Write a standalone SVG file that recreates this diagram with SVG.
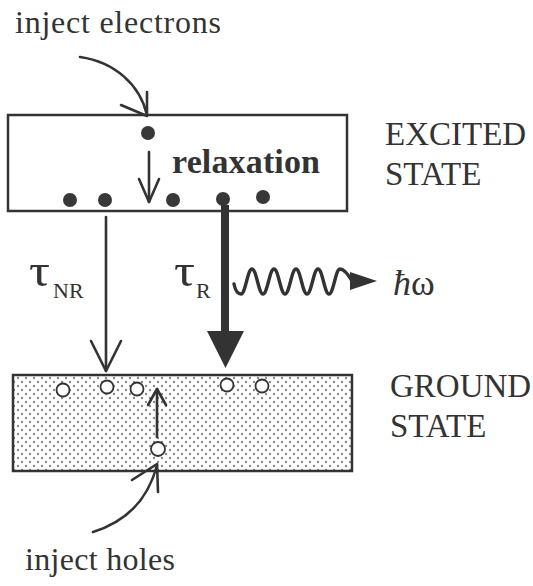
<svg xmlns="http://www.w3.org/2000/svg" width="533" height="586" viewBox="0 0 533 586">
<style>
text{font-family:"Liberation Serif","Times New Roman",serif;fill:#333;}
.lbl{font-size:33px;}
.box{fill:#fff;stroke:#333;stroke-width:2.5;}
.ln{fill:none;stroke:#333;stroke-width:2.6;stroke-linecap:round;stroke-linejoin:round;}
.el{fill:#383838;}
.hole{fill:#fff;stroke:#333;stroke-width:1.8;}
</style>
<defs>
<pattern id="stip" width="8" height="8" patternUnits="userSpaceOnUse">
<rect width="8" height="8" fill="#fff"/>
<circle cx="2" cy="2" r="1.2" fill="#888"/>
<circle cx="6" cy="6" r="1.2" fill="#888"/>
</pattern>
</defs>
<rect width="533" height="586" fill="#fff"/>

<g id="excited">
<rect class="box" x="8" y="115" width="339" height="96"/>
<circle class="el" cx="148" cy="133" r="7"/>
<circle class="el" cx="70" cy="200" r="7"/>
<circle class="el" cx="105" cy="200" r="7"/>
<circle class="el" cx="173" cy="200" r="7"/>
<circle class="el" cx="223" cy="199" r="7"/>
<circle class="el" cx="263" cy="197" r="7"/>
<text x="172" y="173" font-size="34" font-weight="bold" textLength="148">relaxation</text>
</g>
<g id="excited-label">
<text class="lbl" x="385" y="145">EXCITED</text>
<text class="lbl" x="385" y="185">STATE</text>
</g>

<g id="ground">
<rect x="13" y="375" width="339" height="96" fill="url(#stip)" stroke="#333" stroke-width="2.5"/>
<circle class="hole" cx="63" cy="390" r="6.5"/>
<circle class="hole" cx="107" cy="387" r="6.5"/>
<circle class="hole" cx="137" cy="389" r="6.5"/>
<circle class="hole" cx="227" cy="385" r="6.5"/>
<circle class="hole" cx="262" cy="386" r="6.5"/>
<circle class="hole" cx="158" cy="449" r="7"/>
</g>
<g id="ground-label">
<text class="lbl" x="390" y="397">GROUND</text>
<text class="lbl" x="390" y="437">STATE</text>
</g>

<g id="inject-electrons">
<text x="15" y="33" font-size="32" textLength="206">inject electrons</text>
</g>
<g id="inject-holes">
<text x="25" y="570" font-size="32" textLength="150">inject holes</text>
</g>
<g id="tau-nr">
<text x="29" y="286" font-size="46" textLength="21" lengthAdjust="spacingAndGlyphs">τ</text>
<text x="53" y="298" font-size="22">NR</text>
</g>
<g id="tau-r">
<text x="174" y="286" font-size="46" textLength="21" lengthAdjust="spacingAndGlyphs">τ</text>
<text x="196" y="298" font-size="22">R</text>
</g>
<g id="photon">
<text x="393" y="295" font-size="36"><tspan font-style="italic">ħ</tspan>ω</text>
</g>

<g id="connectors">
<!-- inject electrons -->
<path class="ln" d="M80,57 C115,62 140,85 147,115"/>
<path class="ln" d="M121,105 L147,116 L147,92"/>
<!-- relaxation -->
<path class="ln" d="M149,152 L149,202"/>
<path class="ln" d="M139,179 L149,202 L159,179"/>
<!-- non-radiative -->
<path class="ln" d="M106,217 L106,371"/>
<path class="ln" d="M91,341 L106,371 L121,341"/>
<!-- radiative -->
<rect x="221" y="205" width="8" height="130" fill="#333"/>
<polygon points="207,331 244,331 225.5,368" fill="#333"/>
<!-- photon wave -->
<path d="M234,284 Q236,294 241,294 C245.5,294 247.5,269 252,269 S258.5,294 263,294 S269.5,269 274,269 S280.5,294 285,294 S291.5,269 296,269 S302.5,294 307,294 S313.5,269 318,269 S324.5,294 329,294 S335.5,269 340,269 Q345,269 352,281" fill="none" stroke="#333" stroke-width="3.4" stroke-linecap="round"/>
<polygon points="350,272 377,281 350,290" fill="#333"/>
<!-- hole relaxation -->
<path class="ln" d="M157,437 L157,389"/>
<path class="ln" d="M148,405 L157,389 L166,405"/>
<!-- inject holes -->
<path class="ln" d="M93,532 C125,522 148,500 157,465"/>
<path class="ln" d="M132,480 L157,464 L158,492"/>
</g>
</svg>
